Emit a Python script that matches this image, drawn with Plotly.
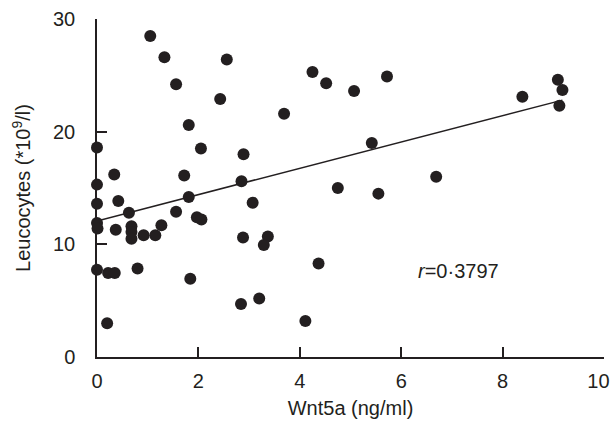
import plotly.graph_objects as go

wnt5a = [1.05, 1.33, 2.56, 1.56, 2.43, 4.25, 3.69, 1.81, 0.00, 2.05,
         2.89, 0.34, 1.72, 0.00, 2.85, 0.42, 1.81, 3.07, 0.00, 0.63,
         1.56, 4.52, 5.07, 5.72, 8.39, 9.09, 9.18, 9.12, 5.42, 4.75,
         5.55, 6.69, 0.00, 0.01, 0.37, 0.68, 0.68, 0.68, 0.92, 1.15,
         1.27, 1.97, 2.06, 2.88, 3.37, 3.29, 0.00, 0.22, 0.35, 0.80,
         1.84, 2.84, 3.20, 0.20, 4.11, 4.37]
leuco = [28.5, 26.6, 26.4, 24.2, 22.9, 25.3, 21.6, 20.6, 18.6, 18.5,
         18.0, 16.2, 16.1, 15.3, 15.6, 13.85, 14.2, 13.7, 13.6, 12.8,
         12.9, 24.3, 23.6, 24.9, 23.1, 24.6, 23.7, 22.3, 19.0, 15.0,
         14.5, 16.0, 11.9, 11.4, 11.3, 11.6, 11.1, 10.5, 10.8, 10.8,
         11.7, 12.4, 12.2, 10.6, 10.7, 9.95, 7.75, 7.45, 7.45, 7.85,
         6.95, 4.7, 5.2, 3.0, 3.2, 8.3]

fit_x = [0.0, 9.18]
fit_y = [12.08, 22.8]

x_ticks = [0, 2, 4, 6, 8, 10]
x_tick_labels = ["0", "2", "4", "6", "8", "10\u00a0\u00a0"]
y_ticks = [0, 10, 20, 30]

ink = "#231f20"
font = "Liberation Sans, Arial, sans-serif"
fs = 20

fig = go.Figure()
fig.add_trace(go.Scatter(x=fit_x, y=fit_y, mode="lines",
                         line=dict(color=ink, width=1.5),
                         cliponaxis=False, showlegend=False, hoverinfo="skip"))
fig.add_trace(go.Scatter(x=wnt5a, y=leuco, mode="markers",
                         marker=dict(color=ink, size=12, line=dict(width=0)),
                         cliponaxis=False, showlegend=False))

fig.add_annotation(x=7.13, y=7.6, text="<i>r</i>=0·3797", showarrow=False,
                   font=dict(family=font, size=fs, color=ink))

axis_common = dict(showgrid=False, zeroline=False, showline=True,
                   linecolor=ink, linewidth=1.5, ticks="inside", ticklen=10,
                   tickwidth=1.5, tickcolor=ink, ticklabeloverflow="allow",
                   automargin=False,
                   tickfont=dict(family=font, size=fs, color=ink))

fig.update_xaxes(range=[0, 10], tickvals=x_ticks, ticktext=x_tick_labels, ticklabelstandoff=5,
                 title=dict(text="Wnt5a (ng/ml)", font=dict(family=font, size=fs, color=ink), standoff=10),
                 **axis_common)
fig.update_yaxes(range=[0, 30], tickvals=y_ticks, ticklabelstandoff=16,
                 title=dict(text="Leucocytes (*10<sup>9</sup>/l)", font=dict(family=font, size=fs, color=ink), standoff=17),
                 **axis_common)

fig.update_layout(width=611, height=421, plot_bgcolor="white", paper_bgcolor="white",
                  margin=dict(l=97, r=7, t=19, b=64), autosize=False)

fig.write_html("out.html", post_script="document.body.style.margin='0px';",
               config={"displayModeBar": False})
